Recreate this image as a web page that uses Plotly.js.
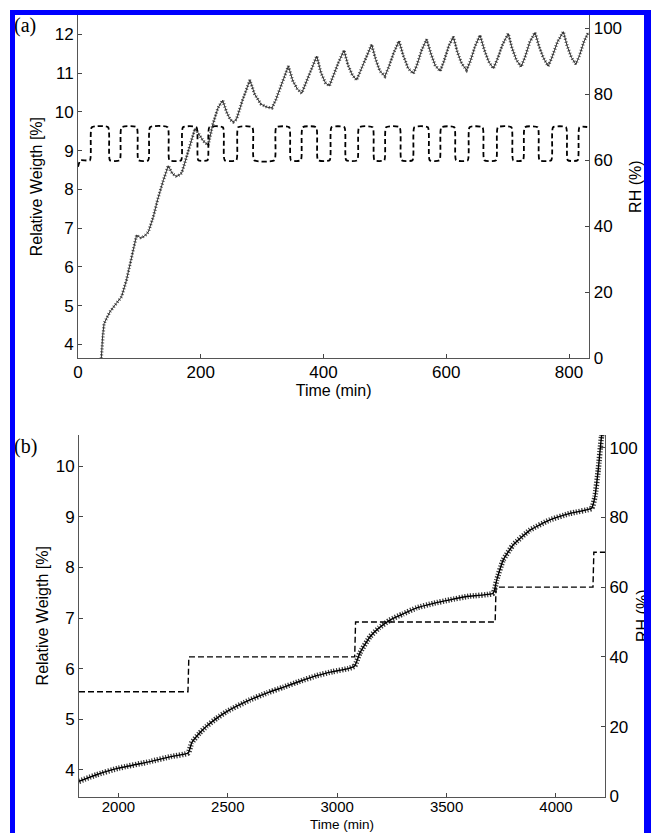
<!DOCTYPE html>
<html>
<head>
<meta charset="utf-8">
<script src="https://cdn.plot.ly/plotly-3.0.1.min.js"></script>
<style>
html,body{margin:0;padding:0;background:#fff;overflow:hidden;}
#wrap{position:relative;width:651px;height:833px;}
#chart{position:absolute;left:0;top:0;width:651px;height:833px;}
#frame{position:absolute;left:10px;top:10px;width:641px;height:840px;box-sizing:border-box;
  border-left:5px solid #0000ff;border-top:5px solid #0000ff;border-right:7px solid #0000ff;border-bottom:none;
  pointer-events:none;z-index:10;}
</style>
</head>
<body>
<div id="wrap"><div id="chart"></div><div id="frame"></div></div>
<script>
// ---------- Panel (a) ----------
const aTime = [38, 40, 42.5, 52, 62, 71, 79, 88, 95.5, 99, 103, 110, 114.6, 122.7, 130, 139, 147, 154, 161, 169, 180, 190.6, 196, 204, 212, 220, 228, 235.7, 242, 248, 253, 258, 268, 280, 288, 298, 308, 316, 322, 332, 342.7, 350, 357, 364.4, 370, 380, 389, 396, 403, 409.5, 415, 425, 433.4, 440, 447, 454, 460, 470, 478.5, 485, 492, 500, 506, 515, 523, 530, 538, 546.4, 552, 560, 568, 575, 582, 590, 596, 604, 611.5, 618, 625, 633, 639, 647, 655, 662, 669, 676.7, 683, 692, 701, 707, 714, 721.8, 728, 736, 744.6, 751, 758, 766, 772, 781, 790.7, 797, 804, 811, 817, 824, 831];
const aWeight = [3.64, 4.2, 4.54, 4.84, 5.05, 5.23, 5.66, 6.3, 6.82, 6.78, 6.74, 6.82, 6.9, 7.29, 7.75, 8.23, 8.61, 8.4, 8.33, 8.42, 9.0, 9.57, 9.45, 9.25, 9.14, 9.7, 10.1, 10.30, 10.0, 9.8, 9.74, 9.8, 10.3, 10.82, 10.45, 10.2, 10.12, 10.1, 10.3, 10.75, 11.18, 10.8, 10.6, 10.48, 10.7, 11.1, 11.44, 11.0, 10.75, 10.67, 10.9, 11.3, 11.59, 11.2, 10.95, 10.82, 11.05, 11.45, 11.74, 11.35, 11.05, 10.92, 11.15, 11.55, 11.83, 11.45, 11.12, 10.99, 11.2, 11.6, 11.87, 11.5, 11.2, 11.05, 11.3, 11.7, 11.94, 11.55, 11.25, 11.08, 11.3, 11.7, 11.98, 11.6, 11.3, 11.12, 11.35, 11.75, 12.02, 11.65, 11.35, 11.16, 11.4, 11.8, 12.05, 11.7, 11.4, 11.18, 11.4, 11.8, 12.07, 11.7, 11.4, 11.23, 11.45, 11.8, 12.04];
const aRhTime = [0, 4, 19.5, 22.5, 49, 52, 68, 71, 95.5, 98.5, 114.5, 117.5, 146, 149, 168, 171, 193, 196, 211, 214, 236, 239, 258, 261, 284, 287, 320, 323, 344, 347, 363, 366, 388, 391, 410, 413, 434, 437, 455, 458, 480, 483, 499, 502, 524, 527, 545, 548, 570, 573, 589, 592, 613, 616, 635, 638, 659, 662, 681, 684, 706, 709, 725, 728, 749, 752, 771, 774, 795, 798, 814, 817, 833];
const aRh = [58, 60, 60, 70, 70, 60, 60, 70, 70, 60, 60, 70, 70, 60, 60, 70, 70, 60, 60, 70, 70, 60, 60, 70, 70, 60, 60, 70, 70, 60, 60, 70, 70, 60, 60, 70, 70, 60, 60, 70, 70, 60, 60, 70, 70, 60, 60, 70, 70, 60, 60, 70, 70, 60, 60, 70, 70, 60, 60, 70, 70, 60, 60, 70, 70, 60, 60, 70, 70, 60, 60, 70, 70];
const aXTicks = [0, 200, 400, 600, 800];
const aYTicks = [4, 5, 6, 7, 8, 9, 10, 11, 12];
const rhTicks = [0, 20, 40, 60, 80, 100];

// ---------- Panel (b) ----------
const bTime = [1820, 1900, 2000, 2144, 2240, 2319, 2335, 2370, 2403, 2450, 2495, 2601, 2680, 2753, 2830, 2906, 2980, 3050, 3080, 3104, 3150, 3190, 3241, 3300, 3363, 3440, 3515, 3600, 3713, 3729, 3759, 3805, 3881, 3972, 4064, 4163, 4178, 4193, 4208, 4214];
const bWeight = [3.77, 3.9, 4.03, 4.16, 4.26, 4.33, 4.53, 4.72, 4.86, 5.02, 5.15, 5.38, 5.52, 5.63, 5.75, 5.86, 5.94, 6.0, 6.05, 6.31, 6.63, 6.8, 6.96, 7.08, 7.20, 7.29, 7.36, 7.43, 7.49, 7.75, 8.15, 8.45, 8.74, 8.94, 9.07, 9.17, 9.40, 9.93, 10.59, 10.72];
const bRhTime = [1820, 2318, 2322, 3080, 3084, 3722, 3726, 4169, 4173, 4224];
const bRh = [30, 30, 40, 40, 50, 50, 60, 60, 70, 70];
const bXTicks = [2000, 2500, 3000, 3500, 4000];
const bYTicks = [4, 5, 6, 7, 8, 9, 10];

const W = 651, H = 833;
const px = v => v / W, py = v => 1 - v / H;
const FONT = 'Liberation Sans, Arial, sans-serif';
const tickFont = {family: FONT, size: 17, color: '#000'};
const tickFontB = {family: FONT, size: 15, color: '#000'};
const titleFont = {family: FONT, size: 16, color: '#000'};
const axBase = {showgrid: false, zeroline: false, showline: true, linecolor: '#555', linewidth: 1,
  ticks: 'inside', ticklen: 4, tickcolor: '#444', tickfont: tickFont, mirror: false, fixedrange: true};

const traces = [
  {x: aRhTime, y: aRh, xaxis: 'x', yaxis: 'y2', mode: 'lines', line: {color: '#000', width: 1.8, dash: '5px,3px', shape: 'spline', smoothing: 0.5}, hoverinfo: 'skip'},
  {x: aTime, y: aWeight, xaxis: 'x', yaxis: 'y', mode: 'lines', line: {color: '#555', width: 3.2, dash: '1px,2px'}, hoverinfo: 'skip'},
  {x: aTime, y: aWeight, xaxis: 'x', yaxis: 'y', mode: 'lines', line: {color: '#222', width: 0.9}, hoverinfo: 'skip'},
  {x: bRhTime, y: bRh, xaxis: 'x2', yaxis: 'y4', mode: 'lines', line: {color: '#000', width: 1.4, dash: '6px,3px'}, hoverinfo: 'skip'},
  {x: bTime, y: bWeight, xaxis: 'x2', yaxis: 'y3', mode: 'lines', line: {color: '#333', width: 5.5, dash: '1.2px,1.6px', shape: 'spline', smoothing: 0.4}, hoverinfo: 'skip'},
  {x: bTime, y: bWeight, xaxis: 'x2', yaxis: 'y3', mode: 'lines', line: {color: '#000', width: 1.4, shape: 'spline', smoothing: 0.4}, hoverinfo: 'skip'}
];

const layout = {
  width: W, height: H, margin: {l: 0, r: 0, t: 0, b: 0},
  paper_bgcolor: '#fff', plot_bgcolor: '#fff', showlegend: false,
  xaxis: Object.assign({}, axBase, {domain: [px(78), px(589.3)], range: [0, 833], anchor: 'y',
    tickvals: aXTicks, ticklabelstandoff: -2, title: {text: 'Time (min)', font: titleFont, standoff: 0}}),
  yaxis: Object.assign({}, axBase, {domain: [py(358.3), py(15)], range: [3.64, 12.5], anchor: 'x',
    tickvals: aYTicks, title: {text: 'Relative Weigth [%]', font: titleFont, standoff: 8}}),
  yaxis2: Object.assign({}, axBase, {overlaying: 'y', side: 'right', anchor: 'x', range: [0, 104],
    tickvals: rhTicks, title: {text: 'RH (%)', font: titleFont, standoff: 8}}),
  xaxis2: Object.assign({}, axBase, {domain: [px(79), px(605)], range: [1820, 4224], anchor: 'y3',
    tickvals: bXTicks, tickfont: tickFontB, ticklabelstandoff: -4}),
  yaxis3: Object.assign({}, axBase, {domain: [py(796.5), py(435)], range: [3.47, 10.62], anchor: 'x2',
    tickvals: bYTicks, title: {text: 'Relative Weigth [%]', font: titleFont, standoff: 3}}),
  yaxis4: Object.assign({}, axBase, {overlaying: 'y3', side: 'right', anchor: 'x2', range: [0, 103.6],
    tickvals: rhTicks, title: {text: 'RH (%)', font: titleFont, standoff: 4}}),
  annotations: [
    {text: '(a)', xref: 'paper', yref: 'paper', x: px(12), y: py(12), xanchor: 'left', yanchor: 'top',
     showarrow: false, font: {family: 'Liberation Serif, Times New Roman, serif', size: 20, color: '#000'}},
    {text: '(b)', xref: 'paper', yref: 'paper', x: px(12), y: py(433), xanchor: 'left', yanchor: 'top',
     showarrow: false, font: {family: 'Liberation Serif, Times New Roman, serif', size: 20, color: '#000'}},
    {text: 'Time (min)', xref: 'paper', yref: 'paper', x: px(342), y: py(833), xanchor: 'center', yanchor: 'bottom',
     showarrow: false, borderpad: 0, font: {family: FONT, size: 13.5, color: '#000'}}
  ]
};

Plotly.newPlot('chart', traces, layout, {displayModeBar: false, staticPlot: true});
</script>
</body>
</html>
